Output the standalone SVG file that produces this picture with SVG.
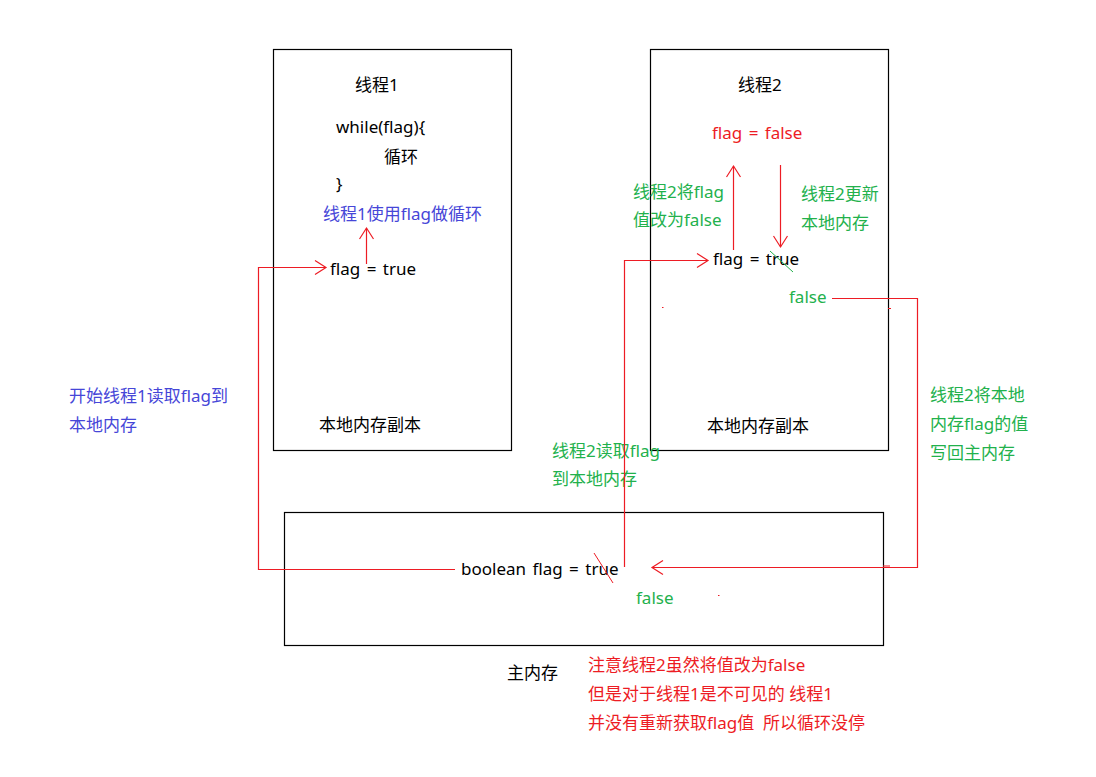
<svg xmlns="http://www.w3.org/2000/svg" width="1096" height="777" viewBox="0 0 1096 777">
<style>
text{font-family:"Noto Sans","Noto Sans CJK SC",sans-serif;font-size:17px;fill:#000;white-space:pre}
.ws{word-spacing:2px}
.r{fill:#ed1c24}.g{fill:#22b14c}.b{fill:#4646d8}
.box{fill:none;stroke:#000;stroke-width:1.2}
.ln{fill:none;stroke:#ed1c24;stroke-width:1.2}
</style>
<defs>
<marker id="ah" viewBox="-12 -8 14 16" refX="0" refY="0" markerWidth="14" markerHeight="16" markerUnits="userSpaceOnUse" orient="auto">
<path d="M-11,-7 L0,0 L-11,7" fill="none" stroke="#ed1c24" stroke-width="1.2"/>
</marker>
</defs>
<rect width="1096" height="777" fill="#fff"/>
<g id="thread1">
<rect class="box" x="273.5" y="49.5" width="238" height="401"/>
<text x="355" y="91">线程1</text>
<text x="336" y="133">while(flag){</text>
<text x="384" y="163">循环</text>
<text x="336" y="190">}</text>
<text class="b" x="323" y="220">线程1使用flag做循环</text>
<text class="ws" x="330" y="275">flag = true</text>
<text x="319" y="431">本地内存副本</text>
</g>
<g id="thread2">
<rect class="box" x="650.5" y="49.5" width="238" height="401"/>
<text x="738" y="91">线程2</text>
<text class="r ws" x="712" y="139">flag = false</text>
<text class="g" x="633" y="198">线程2将flag</text>
<text class="g" x="633" y="226">值改为false</text>
<text class="g" x="801" y="200">线程2更新</text>
<text class="g" x="801" y="229">本地内存</text>
<text class="ws" x="713" y="265">flag = true</text>
<text class="g" x="789" y="303">false</text>
<text x="707" y="432">本地内存副本</text>
</g>
<g id="main">
<rect class="box" x="284.5" y="512.5" width="599" height="133"/>
<text class="ws" x="461" y="575">boolean flag = true</text>
<text class="g" x="636" y="604">false</text>
<text x="507" y="679">主内存</text>
</g>
<g id="labels">
<text class="b" x="69" y="402">开始线程1读取flag到</text>
<text class="b" x="69" y="431">本地内存</text>
<text class="g" x="552" y="457">线程2读取flag</text>
<text class="g" x="552" y="485">到本地内存</text>
<text class="g" x="930" y="401">线程2将本地</text>
<text class="g" x="930" y="430">内存flag的值</text>
<text class="g" x="930" y="459">写回主内存</text>
<text class="r" x="588" y="671">注意线程2虽然将值改为false</text>
<text class="r" x="588" y="700">但是对于线程1是不可见的 线程1</text>
<text class="r" x="588" y="729">并没有重新获取flag值  所以循环没停</text>
</g>
<g id="connectors">
<polyline class="ln" points="455,569.5 258.5,569.5 258.5,267.5 326,267.5" marker-end="url(#ah)"/>
<line class="ln" x1="366.5" y1="264" x2="366.5" y2="228" marker-end="url(#ah)"/>
<line class="ln" x1="733.5" y1="250" x2="733.5" y2="166" marker-end="url(#ah)"/>
<line class="ln" x1="780.5" y1="165" x2="780.5" y2="247" marker-end="url(#ah)"/>
<polyline class="ln" points="624.5,567 624.5,260.5 708,260.5" marker-end="url(#ah)"/>
<polyline class="ln" points="832,298.5 917.5,298.5 917.5,567.5 652,567.5" marker-end="url(#ah)"/>
<line x1="770" y1="251" x2="793" y2="272" stroke="#22b14c" stroke-width="1"/>
<line x1="594" y1="553" x2="613" y2="583" stroke="#ed1c24" stroke-width="1"/>
<line x1="883" y1="566" x2="890" y2="566" stroke="#ed1c24" stroke-width="1"/>
<line x1="888" y1="308.5" x2="891" y2="308.5" stroke="#ed1c24" stroke-width="1"/>
<rect x="662" y="307" width="1.5" height="1" fill="#ed1c24"/>
<rect x="718" y="595" width="1.5" height="1" fill="#ed1c24"/>
</g>
</svg>
